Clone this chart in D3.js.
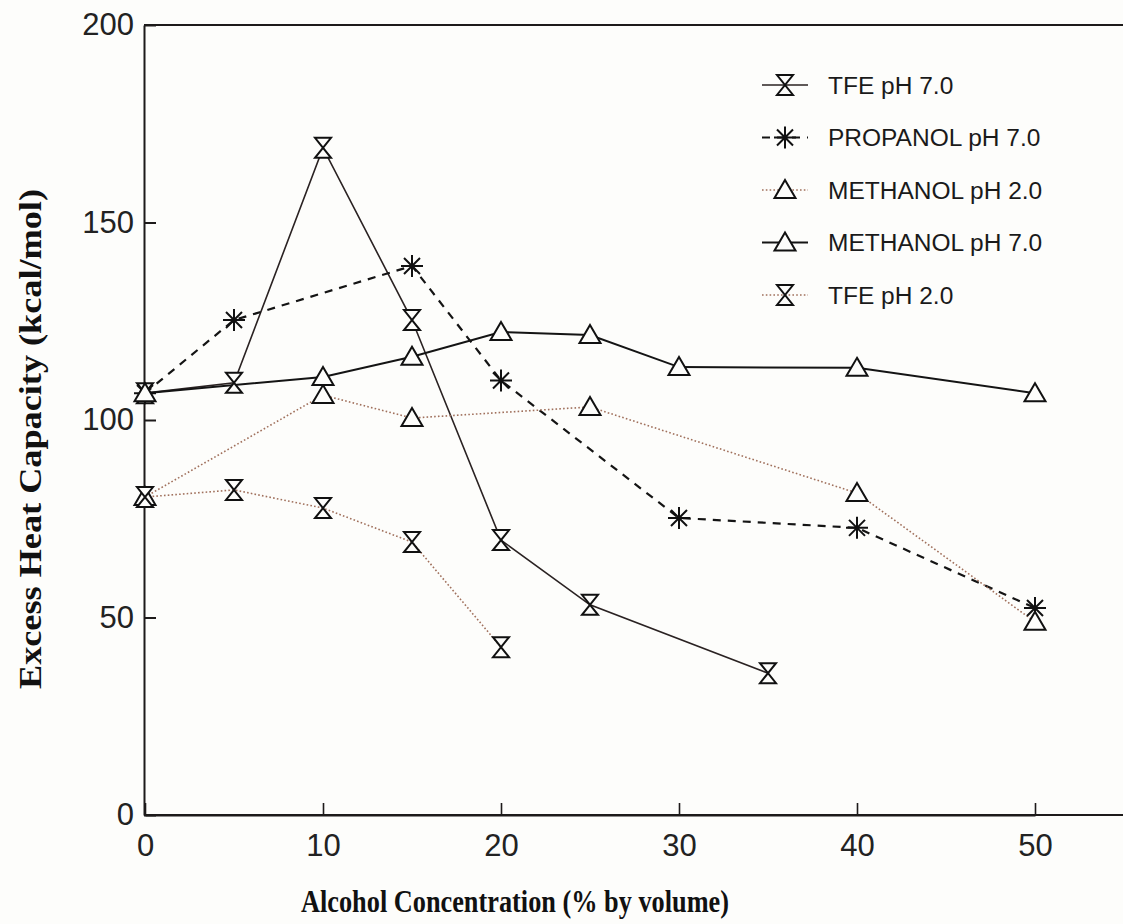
<!DOCTYPE html>
<html>
<head>
<meta charset="utf-8">
<script src="https://cdn.jsdelivr.net/npm/d3@7"></script>
<style>
  html, body { margin: 0; padding: 0; background: #fdfdfb; }
  svg { display: block; }
</style>
</head>
<body>
<svg id="chart" width="1123" height="924"></svg>
<script>
// Excess heat capacity vs. alcohol concentration, five solvent / pH series
const xTicks = [0, 10, 20, 30, 40, 50];
const yTicks = [0, 50, 100, 150, 200];

// [alcohol % by volume, excess heat capacity kcal/mol]
const tfePH7 = [[0, 106.8], [5, 109.4], [10, 168.9], [15, 125.3], [20, 69.6], [25, 53.2], [35, 35.9]];
const propanolPH7 = [[0, 106.8], [5, 125.3], [15, 139.0], [20, 110.0], [30, 75.2], [40, 72.7], [50, 52.4]];
const methanolPH2 = [[0, 80.5], [10, 106.3], [15, 100.5], [25, 103.3], [40, 81.5], [50, 48.9]];
const methanolPH7 = [[0, 106.8], [10, 110.9], [15, 116.0], [20, 122.3], [25, 121.5], [30, 113.4], [40, 113.2], [50, 106.8]];
const tfePH2 = [[0, 80.5], [5, 82.3], [10, 77.7], [15, 69.1], [20, 42.5]];

const seriesNames = ["TFE pH 7.0", "PROPANOL pH 7.0", "METHANOL pH 2.0", "METHANOL pH 7.0", "TFE pH 2.0"];

const svg = d3.select("#chart");
const W = 1123, H = 924;

const x = d3.scaleLinear().domain([0, 50]).range([145, 1035]);
const y = d3.scaleLinear().domain([0, 200]).range([815, 25]);

const ink = "#1d1a1a";
const dotInk = "#a0705c";

// line + marker styles for each series
const styles = [
  { data: tfePH7,      marker: "hourglass", stroke: "#2a2222", width: 1.6, dash: null },
  { data: propanolPH7, marker: "asterisk",  stroke: "#141414", width: 2.2, dash: "8 7" },
  { data: methanolPH2, marker: "triangle",  stroke: dotInk,    width: 1.6, dash: "1.6 2.2" },
  { data: methanolPH7, marker: "triangle",  stroke: "#141414", width: 2.0, dash: null },
  { data: tfePH2,      marker: "hourglass", stroke: dotInk,    width: 1.6, dash: "1.6 2.2" }
];

const markerPaths = {
  hourglass: "M-8,-10H8L-8,10H8Z",
  triangle: "M0,-10L10.5,8H-10.5Z",
  asterisk: "M0,-11V11M-11,0H11M-8,-8L8,8M-8,8L8,-8"
};

// frame: top edge and bottom axis line
const frame = svg.append("g").attr("stroke", ink).attr("stroke-width", 2).attr("fill", "none");
frame.append("line").attr("x1", x(0) - 1).attr("x2", W).attr("y1", y(200)).attr("y2", y(200));
frame.append("line").attr("x1", x(0) - 1).attr("x2", W).attr("y1", y(0)).attr("y2", y(0));

const fontTick = "'Liberation Sans', Arial, sans-serif";

const yAxis = svg.append("g")
  .attr("transform", `translate(${x(0) - 1},0)`)
  .call(d3.axisLeft(y).tickValues(yTicks).tickSizeInner(-12).tickSizeOuter(0).tickPadding(10));
yAxis.select(".domain").attr("stroke", ink).attr("stroke-width", 2);
yAxis.selectAll(".tick line").attr("stroke", ink).attr("stroke-width", 2);
yAxis.selectAll(".tick text")
  .attr("font-family", fontTick).attr("font-size", 31).attr("fill", "#222");

const xAxis = svg.append("g")
  .attr("transform", `translate(0,${y(0)})`)
  .call(d3.axisBottom(x).tickValues(xTicks).tickSizeInner(-12).tickSizeOuter(0).tickPadding(19));
xAxis.select(".domain").attr("stroke", ink).attr("stroke-width", 2);
xAxis.selectAll(".tick line").attr("stroke", ink).attr("stroke-width", 1.6);
xAxis.selectAll(".tick text")
  .attr("font-family", fontTick).attr("font-size", 31).attr("fill", "#222");

// series lines
const line = d3.line().x(d => x(d[0])).y(d => y(d[1]));
styles.forEach(s => {
  svg.append("path")
    .datum(s.data)
    .attr("d", line)
    .attr("fill", "none")
    .attr("stroke", s.stroke)
    .attr("stroke-width", s.width)
    .attr("stroke-dasharray", s.dash);
});

// markers drawn above all lines
styles.forEach(s => {
  svg.append("g").selectAll("path")
    .data(s.data)
    .join("path")
    .attr("transform", d => `translate(${x(d[0])},${y(d[1])})`)
    .attr("d", markerPaths[s.marker])
    .attr("fill", s.marker === "asterisk" ? "none" : "#fdfdfb")
    .attr("stroke", "#111")
    .attr("stroke-width", 2);
});

// legend
const legend = svg.append("g").attr("transform", "translate(762,85)");
const rowGap = 52.5;
styles.forEach((s, i) => {
  const g = legend.append("g").attr("transform", `translate(0,${i * rowGap})`);
  g.append("line")
    .attr("x1", 0).attr("x2", 46).attr("y1", 0).attr("y2", 0)
    .attr("stroke", s.stroke)
    .attr("stroke-width", s.width)
    .attr("stroke-dasharray", s.dash);
  g.append("path")
    .attr("transform", "translate(23,0)")
    .attr("d", markerPaths[s.marker])
    .attr("fill", s.marker === "asterisk" ? "none" : "#fdfdfb")
    .attr("stroke", "#111")
    .attr("stroke-width", 2);
  g.append("text")
    .attr("x", 66).attr("y", 0).attr("dy", "0.36em")
    .attr("font-family", fontTick).attr("font-size", 24.5).attr("fill", "#1a1a1a")
    .text(seriesNames[i]);
});

// axis titles
const fontTitle = "'Liberation Serif', 'Times New Roman', serif";
svg.append("text")
  .attr("x", 515).attr("y", 912)
  .attr("text-anchor", "middle")
  .attr("font-family", fontTitle).attr("font-weight", "bold")
  .attr("font-size", 32).attr("fill", "#111")
  .attr("textLength", 428).attr("lengthAdjust", "spacingAndGlyphs")
  .text("Alcohol Concentration (% by volume)");

svg.append("text")
  .attr("transform", "translate(41,439) rotate(-90)")
  .attr("text-anchor", "middle")
  .attr("font-family", fontTitle).attr("font-weight", "bold")
  .attr("font-size", 31).attr("fill", "#111")
  .attr("textLength", 500).attr("lengthAdjust", "spacingAndGlyphs")
  .text("Excess Heat Capacity (kcal/mol)");
</script>
</body>
</html>
